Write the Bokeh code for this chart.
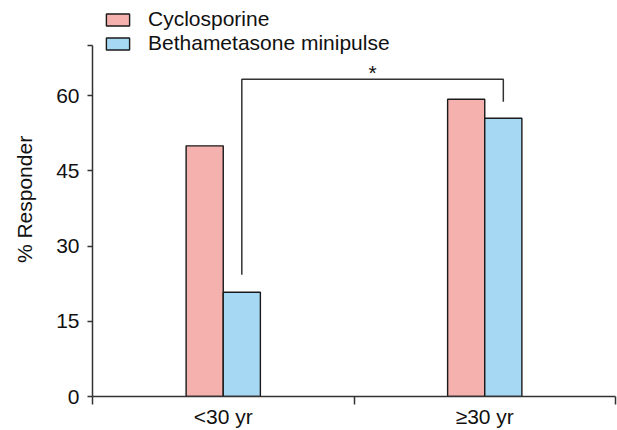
from bokeh.plotting import figure
from bokeh.models import (ColumnDataSource, FixedTicker, Legend, LegendItem, Range1d)
from bokeh.core.properties import value
from bokeh.embed import file_html
from bokeh.resources import INLINE

categories = ["<30 yr", "\u226530 yr"]
series_names = ["Cyclosporine", "Bethametasone minipulse"]
cyclosporine = [50, 59.3]
bethametasone = [20.8, 55.5]
y_ticks = [0, 15, 30, 45, 60, 70]
# significance bracket between Bethametasone bars: left foot, top, right foot
bracket_vals = [24.3, 63.3, 58.8]
star_label = "*"

FONT = "Liberation Sans"
FS = "21px"
PINK = "#F4B1AE"
BLUE = "#A6D8F4"
BAR_W = 0.142
Y_AXIS_MAX = 70

p = figure(width=617, height=430, output_backend="svg", toolbar_location=None,
           x_range=Range1d(0, len(categories)), y_range=Range1d(0, 78.6),
           min_border_left=92, min_border_right=2, min_border_top=2,
           min_border_bottom=0)
p.grid.visible = False
p.outline_line_color = None
p.background_fill_color = None
p.border_fill_color = "white"

centers = [i + 0.5 for i in range(len(categories))]
src_c = ColumnDataSource(dict(x=[c - BAR_W / 2 for c in centers], top=cyclosporine))
src_b = ColumnDataSource(dict(x=[c + BAR_W / 2 for c in centers], top=bethametasone))
r1 = p.vbar(x="x", top="top", width=BAR_W, source=src_c, fill_color=PINK,
            line_color="#1a1a1a", line_width=1.4)
r2 = p.vbar(x="x", top="top", width=BAR_W, source=src_b, fill_color=BLUE,
            line_color="#1a1a1a", line_width=1.4)

# bracket
xl = centers[0] + BAR_W / 2
xr = centers[1] + BAR_W / 2
p.line(x=[xl, xl, xr, xr], y=[bracket_vals[0], bracket_vals[1], bracket_vals[1], bracket_vals[2]],
       line_color="#333333", line_width=1.5)
p.text(x=[(xl + xr) / 2], y=[bracket_vals[1] + 1.4], text=[star_label],
       text_font=value(FONT), text_font_size=FS, text_align="center",
       text_baseline="alphabetic", text_color="#111111")

# axes
xa = p.xaxis[0]
xa.ticker = FixedTicker(ticks=centers, minor_ticks=list(range(len(categories) + 1)))
xa.major_label_overrides = {c: lab for c, lab in zip(centers, categories)}
xa.major_tick_out = 0
xa.major_tick_in = 0
xa.minor_tick_out = 8
xa.minor_tick_in = 0
xa.minor_tick_line_color = "#333333"
xa.minor_tick_line_width = 1.5
xa.axis_line_color = "#333333"
xa.axis_line_width = 1.5
xa.major_label_text_font = FONT
xa.major_label_text_font_size = FS
xa.major_label_text_color = "#111111"
xa.major_label_standoff = 0

ya = p.yaxis[0]
ya.bounds = (0, Y_AXIS_MAX)
ya.ticker = FixedTicker(ticks=y_ticks, minor_ticks=[])
ya.major_label_overrides = {Y_AXIS_MAX: ""}
ya.major_tick_out = 5
ya.major_tick_in = 0
ya.major_tick_line_color = "#333333"
ya.major_tick_line_width = 1.5
ya.axis_line_color = "#333333"
ya.axis_line_width = 1.5
ya.major_label_text_font = FONT
ya.major_label_text_font_size = FS
ya.major_label_text_color = "#111111"
ya.major_label_standoff = 8
ya.axis_label = "% Responder"
ya.axis_label_text_font = FONT
ya.axis_label_text_font_size = FS
ya.axis_label_text_font_style = "normal"
ya.axis_label_text_color = "#111111"
ya.axis_label_standoff = 17

legend = Legend(items=[LegendItem(label=series_names[0], renderers=[r1]),
                       LegendItem(label=series_names[1], renderers=[r2])],
                location=(11, 341), orientation="vertical",
                glyph_width=29, glyph_height=15, label_standoff=16,
                label_text_font=FONT, label_text_font_size=FS,
                label_text_color="#111111", label_height=24, spacing=0,
                padding=0, margin=0, border_line_color=None,
                background_fill_alpha=0)
p.add_layout(legend, "center")

open("out.html", "w").write(file_html(p, INLINE))
